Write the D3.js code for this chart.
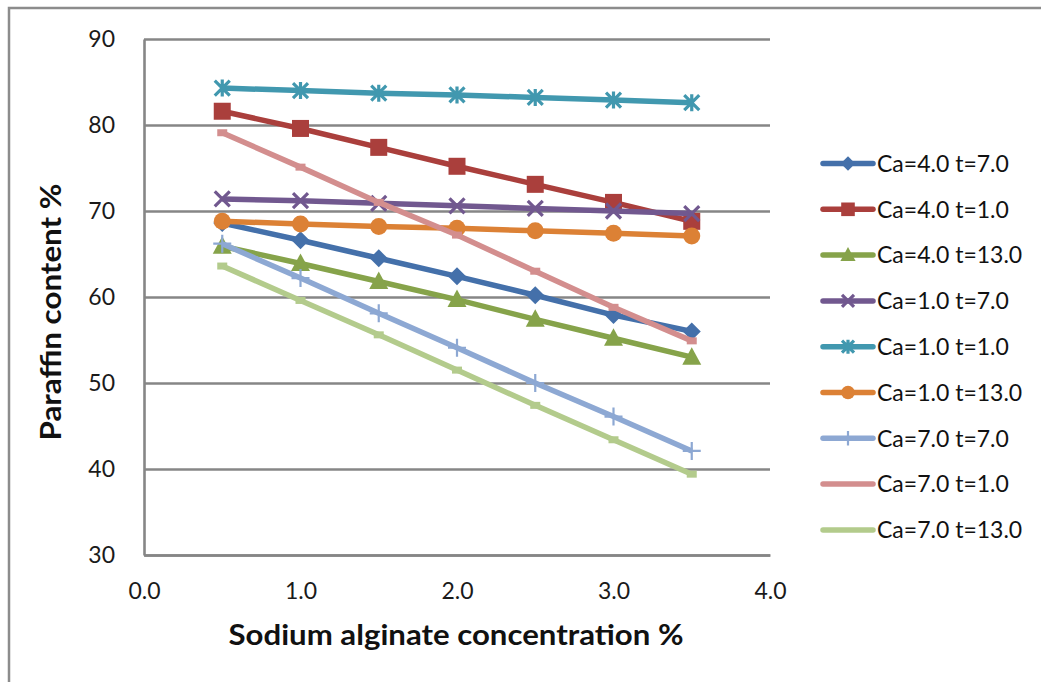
<!DOCTYPE html>
<html>
<head>
<meta charset="utf-8">
<script src="https://cdn.jsdelivr.net/npm/d3@7"></script>
<style>
  body { margin: 0; background: #fff; }
  svg { display: block; font-family: Lato, "Open Sans", sans-serif; }
</style>
</head>
<body>
<script>
const width = 1041
const height = 682
const margin = ({top: 39, right: 271, bottom: 127, left: 144})

// concentrations on the x axis
const concentrations = [0.5, 1.0, 1.5, 2.0, 2.5, 3.0, 3.5]

const seriesNames = ["Ca=4.0 t=7.0", "Ca=4.0 t=1.0", "Ca=4.0 t=13.0",
    "Ca=1.0 t=7.0", "Ca=1.0 t=1.0", "Ca=1.0 t=13.0",
    "Ca=7.0 t=7.0", "Ca=7.0 t=1.0", "Ca=7.0 t=13.0"]

const ca4t7 = [68.6, 66.6, 64.5, 62.4, 60.2, 57.9, 56.0]
const ca4t1 = [81.6, 79.6, 77.4, 75.2, 73.1, 71.0, 68.8]
const ca4t13 = [65.9, 63.9, 61.8, 59.7, 57.4, 55.2, 53.0]
const ca1t7 = [71.4, 71.2, 70.9, 70.6, 70.3, 70.0, 69.7]
const ca1t1 = [84.3, 84.0, 83.7, 83.5, 83.2, 82.9, 82.6]
const ca1t13 = [68.8, 68.5, 68.2, 68.0, 67.7, 67.4, 67.1]
const ca7t7 = [66.2, 62.2, 58.1, 54.1, 50.0, 46.1, 42.1]
const ca7t1 = [79.1, 75.1, 71.0, 67.2, 63.0, 58.8, 54.9]
const ca7t13 = [63.6, 59.6, 55.6, 51.5, 47.4, 43.4, 39.4]

const yTicks = [30, 40, 50, 60, 70, 80, 90]
const xTicks = [0, 1, 2, 3, 4]

const colors = ["#4470aa", "#aa3f3c", "#86a34a", "#71588f", "#4198af",
    "#dc8135", "#8da8d3", "#d38e8e", "#b3cb8c"]
const markers = ["diamond", "square", "triangle", "x", "star", "circle", "plus", "dash", "dash"]

const series = [ca4t7, ca4t1, ca4t13, ca1t7, ca1t1, ca1t13, ca7t7, ca7t1, ca7t13]
    .map((values, i) => ({
        name: seriesNames[i],
        color: colors[i],
        marker: markers[i],
        points: values.map((v, j) => ({x: concentrations[j], y: v}))
    }))

const x = d3.scaleLinear()
    .domain([0, 4])
    .range([margin.left, width - margin.right])

const y = d3.scaleLinear()
    .domain([30, 90])
    .range([height - margin.bottom, margin.top])

const svg = d3.select("body").append("svg")
    .attr("width", width)
    .attr("height", height)
    .attr("viewBox", [0, 0, width, height])

// outer chart border (runs off the right and bottom)
svg.append("rect")
    .attr("x", 9).attr("y", 8)
    .attr("width", width + 10).attr("height", height + 10)
    .attr("fill", "none")
    .attr("stroke", "#8c8c8c")
    .attr("stroke-width", 2.5)

const yAxis = g => g
    .attr("transform", `translate(${margin.left},0)`)
    .call(d3.axisLeft(y).tickValues(yTicks).tickSize(0).tickPadding(29).tickFormat(d3.format("d")))
    .call(g => g.selectAll(".tick line").clone()
        .attr("stroke", "#868686")
        .attr("stroke-width", 2.4)
        .attr("x2", width - margin.left - margin.right))
    .call(g => g.select(".domain").attr("stroke", "#868686").attr("stroke-width", 2.6))
    .call(g => g.selectAll(".tick text")
        .attr("font-size", 23)
        .attr("fill", "#1a1a1a")
        .attr("font-family", "Lato"))

const xAxis = g => g
    .attr("transform", `translate(0,${height - margin.bottom})`)
    .call(d3.axisBottom(x).tickValues(xTicks).tickSize(0).tickPadding(28).tickFormat(d3.format(".1f")))
    .call(g => g.select(".domain").attr("stroke", "#868686").attr("stroke-width", 2.6))
    .call(g => g.selectAll(".tick text")
        .attr("font-size", 23)
        .attr("fill", "#1a1a1a")
        .attr("font-family", "Lato"))

svg.append("g").call(yAxis)
svg.append("g").call(xAxis)

svg.append("text")
    .attr("x", 456).attr("y", 645)
    .attr("text-anchor", "middle")
    .attr("font-size", 28)
    .attr("font-weight", "bold")
    .attr("fill", "#111")
    .attr("textLength", 455)
    .attr("lengthAdjust", "spacingAndGlyphs")
    .text("Sodium alginate concentration %")

svg.append("text")
    .attr("transform", "translate(61,312) rotate(-90)")
    .attr("text-anchor", "middle")
    .attr("font-size", 28)
    .attr("font-weight", "bold")
    .attr("fill", "#111")
    .attr("textLength", 257)
    .attr("lengthAdjust", "spacingAndGlyphs")
    .text("Paraffin content %")

const drawMarker = (sel, type, color, k) => {
    if (type === "diamond") {
        sel.append("path").attr("d", `M0,${-9 * k}L${9 * k},0L0,${9 * k}L${-9 * k},0Z`).attr("fill", color)
    } else if (type === "square") {
        sel.append("rect").attr("x", -8.5 * k).attr("y", -8.5 * k)
            .attr("width", 17 * k).attr("height", 17 * k).attr("fill", color)
    } else if (type === "triangle") {
        sel.append("path").attr("d", `M0,${-10 * k}L${9.5 * k},${7.5 * k}L${-9.5 * k},${7.5 * k}Z`).attr("fill", color)
    } else if (type === "circle") {
        sel.append("circle").attr("r", 8.5 * k).attr("fill", color)
    } else if (type === "x" || type === "star") {
        const s = 7.5 * k
        sel.append("path")
            .attr("d", `M${-s},${-s}L${s},${s}M${-s},${s}L${s},${-s}` +
                (type === "star" ? `M0,${-s - 1}L0,${s + 1}` : ""))
            .attr("stroke", color).attr("stroke-width", 3.2).attr("fill", "none")
    } else if (type === "plus") {
        const s = 9 * k
        sel.append("path").attr("d", `M${-s},0L${s},0M0,${-s}L0,${s}`)
            .attr("stroke", color).attr("stroke-width", 2.2).attr("fill", "none")
    } else if (type === "dash") {
        sel.append("rect").attr("x", -5 * k).attr("y", -3.5 * k)
            .attr("width", 10 * k).attr("height", 7 * k).attr("fill", color)
    }
}

const line = d3.line()
    .x(d => x(d.x))
    .y(d => y(d.y))

const plot = svg.append("g")

series.forEach(s => {
    const g = plot.append("g")
    g.append("path")
        .datum(s.points)
        .attr("d", line)
        .attr("fill", "none")
        .attr("stroke", s.color)
        .attr("stroke-width", 5.5)
        .attr("stroke-linejoin", "round")
    g.selectAll("g")
        .data(s.points)
        .join("g")
            .attr("transform", d => `translate(${x(d.x)},${y(d.y)})`)
            .each(function () { drawMarker(d3.select(this), s.marker, s.color, 1) })
})

// legend
const legend = svg.append("g")
    .selectAll("g")
    .data(series)
    .join("g")
        .attr("transform", (d, i) => `translate(823,${163.5 + i * 45.8})`)

legend.append("line")
    .attr("x1", 0).attr("x2", 50)
    .attr("stroke", d => d.color)
    .attr("stroke-width", 5.5)
    .attr("stroke-linecap", "round")

legend.append("g")
    .attr("transform", "translate(25,0)")
    .each(function (d) { if (d.marker !== "dash") drawMarker(d3.select(this), d.marker, d.color, 0.8) })

legend.append("text")
    .attr("x", 54)
    .attr("dy", "0.36em")
    .attr("font-size", 23)
    .attr("fill", "#111")
    .text(d => d.name)
</script>
</body>
</html>
